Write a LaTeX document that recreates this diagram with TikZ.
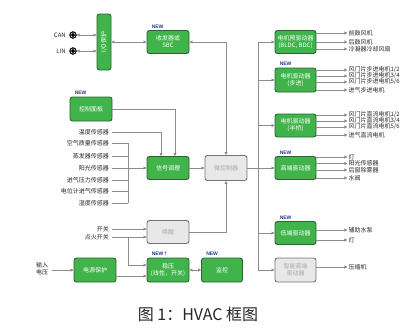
\documentclass[tikz,border=0pt]{standalone}
\usepackage{fontspec}
\setmainfont{Noto Sans CJK SC}
\newfontfamily\latinf{Liberation Sans}
\usetikzlibrary{arrows.meta,calc}
\definecolor{gfill}{RGB}{64,180,75}
\definecolor{gdraw}{RGB}{45,100,50}
\definecolor{xfill}{RGB}{232,232,232}
\definecolor{xdraw}{RGB}{115,115,115}
\definecolor{xtext}{RGB}{170,170,170}
\definecolor{lgray}{RGB}{140,140,140}
\definecolor{newblue}{RGB}{35,60,140}
\tikzset{
  gbox/.style={draw=gdraw, fill=gfill, rounded corners=2.5pt, line width=0.9pt, text=white,
    font=\fontsize{6}{7}\selectfont, align=center, minimum width=42pt, minimum height=23pt, inner sep=1pt},
  xbox/.style={gbox, draw=xdraw, fill=xfill, text=xtext},
  newl/.style={font=\latinf\bfseries\fontsize{5}{5}\selectfont, text=newblue, inner sep=0pt, anchor=south west},
  conn/.style={draw=lgray, line width=0.7pt},
  arr/.style={conn, -{Triangle[length=3pt,width=3pt]}},
  barr/.style={conn, {Triangle[length=3pt,width=3pt]}-{Triangle[length=3pt,width=3pt]}},
  lab/.style={font=\fontsize{6}{7}\selectfont, inner sep=1pt, text=black!85},
  term/.style={circle, fill=black, draw=black, minimum size=7pt, inner sep=0pt},
}
\begin{document}
\begin{tikzpicture}[x=1pt,y=-1pt]
\useasboundingbox (0,0) rectangle (417,332);

% left blocks
\node[gbox, minimum width=14pt, minimum height=56pt] (io) at (104,42) {};
\node[rotate=90, text=white, font=\fontsize{6}{7}\selectfont] (iot) at (io.center) {I/O保护};
\node[gbox] (sbc) at (168,42) {收发器或\\SBC};
\node[newl] (n1) at ($(sbc.north west)+(5,-1.5)$) {NEW};
\node[gbox, minimum height=24pt] (panel) at (91,109) {控制面板};
\node[newl] (n2) at ($(panel.north west)+(5,-1.5)$) {NEW};
\node[gbox] (sig) at (168,168) {信号调理};
\node[xbox, minimum height=25pt] (mcu) at (226,168) {微控制器};
\node[xbox] (wake) at (168,232) {唤醒};
\node[gbox, minimum height=24pt] (reg) at (168,270) {稳压\\(线性，开关)};
\node[newl] (n3) at ($(reg.north west)+(5,-1.5)$) {NEW\,\textdagger};
\node[gbox, minimum height=24pt] (pwr) at (95,270) {电源保护};
\node[gbox, minimum width=41pt, minimum height=24pt] (mon) at (222,270) {监控};
\node[newl] (n4) at ($(mon.north west)+(5,-1.5)$) {NEW};

% right blocks
\node[gbox, minimum width=41pt] (r1) at (295.5,42) {电机预驱动器\\(BLDC, BDC)};
\node[gbox, minimum width=41pt, minimum height=24pt] (r2) at (295.5,80) {电机驱动器\\(步进)};
\node[newl] (n5) at ($(r2.north west)+(5,-1.5)$) {NEW};
\node[gbox, minimum width=41pt] (r3) at (295.5,125.5) {电机驱动器\\(半桥)};
\node[gbox, minimum width=41pt] (r4) at (295.5,168) {高端驱动器};
\node[newl] (n6) at ($(r4.north west)+(5,-1.5)$) {NEW};
\node[gbox, minimum width=41pt] (r5) at (295.5,233) {低端驱动器};
\node[newl] (n7) at ($(r5.north west)+(5,-1.5)$) {NEW};
\node[xbox, minimum width=41pt, minimum height=24pt] (r6) at (295.5,270) {智能高端\\驱动器};

% CAN / LIN
\node[term] (can) at (73,35) {};
\node[term] (lin) at (73,51) {};
\draw[white, line width=0.4pt] (can.center) circle (2.2pt) (lin.center) circle (2.2pt);
\node[lab, anchor=east] (canl) at (67,35) {CAN};
\node[lab, anchor=east] (linl) at (67,51) {LIN};
\draw[barr] (can) -- (can -| io.west);
\draw[barr] (lin) -- (lin -| io.west);
\draw[barr] (io.east |- sbc) -- (sbc.west);

% sensors
\node[lab, anchor=east, inner xsep=3pt] (s0) at (112,132) {温度传感器};
\node[lab, anchor=east, inner xsep=3pt] (s1) at (112,143) {空气质量传感器};
\node[lab, anchor=east, inner xsep=3pt] (s2) at (112,156) {蒸发器传感器};
\node[lab, anchor=east, inner xsep=3pt] (s3) at (112,168) {阳光传感器};
\node[lab, anchor=east, inner xsep=3pt] (s4) at (112,180) {进气压力传感器};
\node[lab, anchor=east, inner xsep=3pt] (s5) at (112,191) {电位计进气传感器};
\node[lab, anchor=east, inner xsep=3pt] (s6) at (112,203) {湿度传感器};
\coordinate (bt) at (128,143);
\coordinate (bb) at (128,203);
\draw[conn] (bt) -- (bb);
\foreach \s in {s1,s2,s4,s5,s6} \draw[conn] (\s.east) -- (\s.east -| bt);
\draw[arr] (s3.east) -- (sig.west);
\draw[arr] (s0.east) -| ($(sig.north)+(-7,0)$);
\draw[arr] (panel.east) -| ($(sig.north)+(7,0)$);

% center connections
\draw[arr] (sig) -- (mcu);
\draw[barr] (sbc.east) -| (mcu.north);
\draw[arr] (wake.east) -| (mcu.south);
\draw[arr] (mcu.east) -- (r4.west);

% bus
\coordinate (ut) at (258,42);
\coordinate (ub) at (258,270);
\draw[conn] (ut) -- (ub);
\foreach \r in {r1,r2,r3,r5,r6} \draw[arr] (\r.west -| ut) -- (\r.west);

% switches
\node[lab, anchor=east, inner xsep=3pt] (sw) at (112,229) {开关};
\node[lab, anchor=east, inner xsep=3pt] (ig) at (112,237) {点火开关};
\draw[arr] (sw.east) -- (sw.east -| wake.west);
\draw[arr] (ig.east) -- (ig.east -| wake.west);
\coordinate (igb) at (128,237);
\draw[arr] (igb) |- ($(reg.west)+(0,-5)$);

% power
\node[lab, align=center] (vin) at (42,269) {输入\\电压};
\draw[arr] ($(vin.east)+(3,1)$) -- (pwr.west);
\draw[arr] ($(pwr.east)+(0,6)$) -- ($(reg.west)+(0,6)$);
\draw[barr] (reg) -- (mon);

% outputs
\foreach \r/\dy/\t [count=\i] in {
  r1/-9/{前鼓风机}, r1/0/{后鼓风机}, r1/7/{冷凝器冷却风扇},
  r2/-10/{风门片步进电机1/2}, r2/-4/{风门片步进电机3/4}, r2/2/{风门片步进电机5/6}, r2/10/{进气步进电机},
  r3/-10.5/{风门片直流电机1/2}, r3/-4.5/{风门片直流电机3/4}, r3/1.5/{风门片直流电机5/6}, r3/9.5/{进气直流电机},
  r4/-11/{灯}, r4/-4.5/{阳光传感器}, r4/2/{后窗除雾器}, r4/10/{水阀},
  r5/-3/{辅助水泵}, r5/7/{灯},
  r6/-3/{压缩机}}
{
  \coordinate (o\i) at ($(\r.east)+(0,\dy)$);
  \node[lab, anchor=west] (ol\i) at ($(o\i)+(31,0)$) {\t};
  \draw[arr] (o\i) -- (ol\i.west);
}

% caption
\node[font=\fontsize{16}{18}\selectfont, text=black!85] (cap) at (198,314) {图 1：HVAC 框图};
\end{tikzpicture}
\end{document}
